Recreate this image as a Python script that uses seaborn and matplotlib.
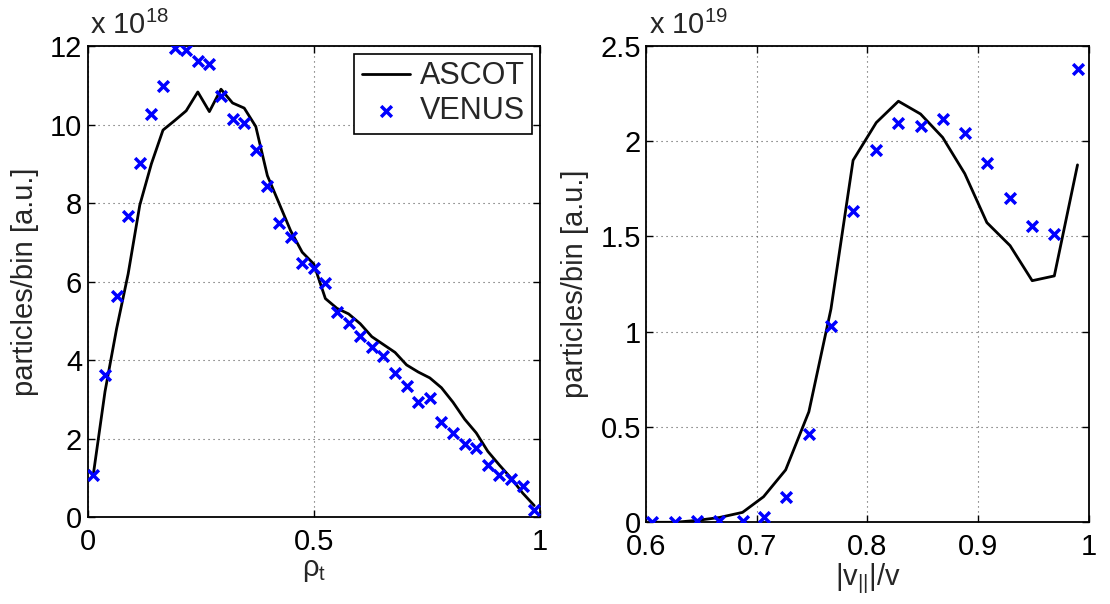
import numpy as np
import pandas as pd
import matplotlib
matplotlib.use("Agg")
import matplotlib.pyplot as plt
import seaborn as sns

# ---------------- data ----------------
# left panel: rho_t bins (values in units of 1e18)
rho_t = [0.0128, 0.0385, 0.0641, 0.0897, 0.1154, 0.1410, 0.1667, 0.1923, 0.2179,
         0.2436, 0.2692, 0.2949, 0.3205, 0.3462, 0.3718, 0.3974, 0.4231, 0.4487,
         0.4744, 0.5000, 0.5256, 0.5513, 0.5769, 0.6026, 0.6282, 0.6538, 0.6795,
         0.7051, 0.7308, 0.7564, 0.7821, 0.8077, 0.8333, 0.8590, 0.8846, 0.9103,
         0.9359, 0.9615, 0.9872]
ascot_rho = [1.10, 3.20, 4.80, 6.20, 7.95, 9.00, 9.86, 10.10, 10.35, 10.83, 10.33,
             10.90, 10.55, 10.42, 9.95, 8.70, 8.00, 7.30, 6.75, 6.45, 5.57, 5.32,
             5.18, 4.93, 4.60, 4.40, 4.20, 3.88, 3.70, 3.55, 3.30, 2.93, 2.50, 2.15,
             1.68, 1.33, 1.00, 0.62, 0.30]
venus_rho = [1.08, 3.62, 5.63, 7.67, 9.03, 10.26, 10.99, 11.94, 11.91, 11.62, 11.53,
             10.73, 10.15, 10.05, 9.34, 8.44, 7.50, 7.14, 6.47, 6.35, 5.96, 5.23,
             4.94, 4.62, 4.33, 4.11, 3.67, 3.34, 2.93, 3.05, 2.43, 2.14, 1.86, 1.76,
             1.33, 1.08, 0.97, 0.80, 0.19]

# right panel: |v_par|/v bins (values in units of 1e19)
vpar = [0.605, 0.626, 0.646, 0.666, 0.687, 0.706, 0.726, 0.747, 0.767, 0.787,
        0.808, 0.828, 0.848, 0.868, 0.888, 0.908, 0.929, 0.949, 0.969, 0.990]
ascot_v = [0.0, 0.0, 0.010, 0.025, 0.052, 0.134, 0.275, 0.58, 1.12, 1.90,
           2.098, 2.21, 2.143, 2.02, 1.83, 1.573, 1.452, 1.268, 1.293, 1.876]
venus_v = [0.0, 0.0, 0.005, 0.008, 0.008, 0.026, 0.134, 0.462, 1.032, 1.634,
           1.953, 2.098, 2.082, 2.119, 2.045, 1.888, 1.701, 1.555, 1.512, 2.378]

left_xticks = [0, 0.5, 1]
left_xticklabels = ["0", "0.5", "1"]
left_yticks = [0, 2, 4, 6, 8, 10, 12]
right_xticks = [0.6, 0.7, 0.8, 0.9, 1.0]
right_xticklabels = ["0.6", "0.7", "0.8", "0.9", "1"]
right_yticks = [0, 0.5, 1.0, 1.5, 2.0, 2.5]
right_yticklabels = ["0", "0.5", "1", "1.5", "2", "2.5"]

# ---------------- style ----------------
sns.set_theme(style="white")
FONT = ["Liberation Sans", "DejaVu Sans"]
plt.rcParams["font.family"] = FONT
plt.rcParams["mathtext.fontset"] = "custom"
plt.rcParams["mathtext.rm"] = "Liberation Sans"
plt.rcParams["mathtext.it"] = "Liberation Sans:italic"
FS = 21

fig = plt.figure(figsize=(11.10, 6.04), dpi=100)
axL = fig.add_axes([0.0789, 0.1435, 0.4076, 0.7803])
axR = fig.add_axes([0.5823, 0.1353, 0.3984, 0.7886])

df_l = pd.DataFrame({"x": rho_t, "ascot": ascot_rho, "venus": venus_rho})
df_r = pd.DataFrame({"x": vpar, "ascot": ascot_v, "venus": venus_v})

for ax, df in ((axL, df_l), (axR, df_r)):
    sns.lineplot(data=df, x="x", y="ascot", ax=ax, color="black", lw=2.0,
                 label="ASCOT", zorder=3, sort=False)
    sns.scatterplot(data=df, x="x", y="venus", ax=ax, color="blue", marker="x",
                    s=60, linewidth=2.5, label="VENUS", zorder=4)

def style_axis(ax):
    ax.set_axisbelow(True)
    ax.grid(True, linestyle=(0, (1, 3.5)), color="#555555", lw=0.8)
    for sp in ax.spines.values():
        sp.set_color("black")
        sp.set_linewidth(1.3)
        sp.set_visible(True)
    ax.tick_params(direction="in", length=5, width=1.0, colors="black",
                   labelsize=FS, top=True, right=True, bottom=True, left=True)
    ax.tick_params(axis="x", pad=8)
    ax.tick_params(axis="y", pad=4)
    ax.set_facecolor("white")

# left
axL.set_xlim(0, 1)
axL.set_ylim(0, 12)
axL.set_xticks(left_xticks)
axL.set_xticklabels(left_xticklabels)
axL.set_yticks(left_yticks)
style_axis(axL)
axL.set_xlabel(r"$\mathrm{\rho}_\mathrm{t}$", fontsize=FS, labelpad=0)
axL.set_ylabel("particles/bin [a.u.]", fontsize=FS, labelpad=8)
axL.text(0.005, 1.012, r"x 10$^{\mathrm{18}}$", transform=axL.transAxes,
         fontsize=FS, ha="left", va="bottom")
leg = axL.legend(loc="upper right", fontsize=FS + 1, frameon=True, fancybox=False,
                 edgecolor="black", framealpha=1, borderaxespad=0.25,
                 handlelength=1.6, handletextpad=0.3, labelspacing=0.15,
                 borderpad=0.25)
leg.get_frame().set_linewidth(1.2)

# right
axR.set_xlim(0.6, 1.0)
axR.set_ylim(0, 2.5)
axR.set_xticks(right_xticks)
axR.set_xticklabels(right_xticklabels)
axR.set_yticks(right_yticks)
axR.set_yticklabels(right_yticklabels)
style_axis(axR)
axR.set_xlabel(r"|v$_{\mathrm{||}}$|/v", fontsize=FS, labelpad=0)
axR.set_ylabel("particles/bin [a.u.]", fontsize=FS, labelpad=8)
axR.text(0.005, 1.012, r"x 10$^{\mathrm{19}}$", transform=axR.transAxes,
         fontsize=FS, ha="left", va="bottom")
if axR.get_legend() is not None:
    axR.get_legend().remove()

fig.savefig("out.png", dpi=100, facecolor="white")
